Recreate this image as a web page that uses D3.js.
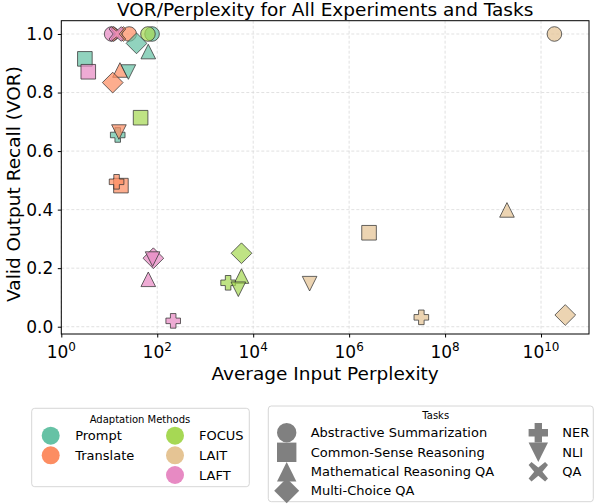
<!DOCTYPE html>
<html>
<head>
<meta charset="utf-8">
<script src="https://cdn.jsdelivr.net/npm/d3@7"></script>
<style>
  body { margin: 0; background: #fff; }
  text { font-family: "DejaVu Sans", sans-serif; fill: #000; }
</style>
</head>
<body>
<script>
// methods and tasks
let methods = ["Prompt", "Translate", "FOCUS", "LAIT", "LAFT"];
let methodColors = ["#66c2a5", "#fc8d62", "#a6d854", "#e5c494", "#e78ac3"];
let tasks = ["Abstractive Summarization", "Common-Sense Reasoning", "Mathematical Reasoning QA",
             "Multi-Choice QA", "NER", "NLI", "QA"];
let taskShapes = ["circle", "square", "triangle", "diamond", "plus", "tridown", "cross"];

// values, one entry per task (null = not shown)
let promptPpl    = [78, 3.1, 65, 37, 15, 25, null];
let promptVor    = [1.0, 0.915, 0.94, 0.968, 0.655, 0.87, null];
let translatePpl = [26, 17.5, 16.7, 11.8, 14.2, 15.9, 15.5];
let translateVor = [1.0, 0.482, 0.877, 0.834, 0.495, 0.665, 1.0];
let focusPpl     = [64, 45, 5700, 5700, 3000, 4900, null];
let focusVor     = [1.0, 0.714, 0.173, 0.251, 0.150, 0.128, null];
let laitPpl      = [1.9e10, 2.6e6, 1.95e9, 3.2e10, 3.2e7, 1.5e5, null];
let laitVor      = [1.0, 0.321, 0.399, 0.04, 0.032, 0.147, null];
let laftPpl      = [11.2, 3.65, 65, 83, 215, 80, 14];
let laftVor      = [1.0, 0.871, 0.162, 0.234, 0.02, 0.231, 1.0];

let xTicks = [0, 2, 4, 6, 8, 10];       // exponents
let yTicks = [0, 0.2, 0.4, 0.6, 0.8, 1.0];

let pplByMethod = [promptPpl, translatePpl, focusPpl, laitPpl, laftPpl];
let vorByMethod = [promptVor, translateVor, focusVor, laitVor, laftVor];

// flatten to points (drawn task by task)
let points = [];
tasks.forEach((t, ti) => {
  methods.forEach((m, mi) => {
    let p = pplByMethod[mi][ti], v = vorByMethod[mi][ti];
    if (p != null && v != null) points.push({method: mi, task: ti, ppl: p, vor: v});
  });
});

let width = 596, height = 504;
let plot = {left: 61.3, right: 589, top: 20.7, bottom: 334};

let svg = d3.select("body").append("svg")
  .attr("width", width).attr("height", height);

let x = d3.scaleLog().domain([1, 1e11]).range([plot.left, plot.right]);
let y = d3.scaleLinear().domain([-0.0249, 1.0454]).range([plot.bottom, plot.top]);

// marker paths, r = half size
function shapePath(shape, r) {
  let p = d3.path();
  if (shape == "circle") { p.arc(0, 0, r, 0, 2 * Math.PI); }
  else if (shape == "square") { p.rect(-r, -r, 2 * r, 2 * r); }
  else if (shape == "triangle") { p.moveTo(0, -r); p.lineTo(r, r); p.lineTo(-r, r); p.closePath(); }
  else if (shape == "tridown") { p.moveTo(0, r); p.lineTo(r, -r); p.lineTo(-r, -r); p.closePath(); }
  else if (shape == "diamond") { let d = r * 1.42; p.moveTo(0, -d); p.lineTo(d, 0); p.lineTo(0, d); p.lineTo(-d, 0); p.closePath(); }
  else if (shape == "plus") {
    let a = r, b = r * 0.38;
    p.moveTo(-b, -a); p.lineTo(b, -a); p.lineTo(b, -b); p.lineTo(a, -b); p.lineTo(a, b);
    p.lineTo(b, b); p.lineTo(b, a); p.lineTo(-b, a); p.lineTo(-b, b); p.lineTo(-a, b);
    p.lineTo(-a, -b); p.lineTo(-b, -b); p.closePath();
  }
  else if (shape == "cross") {
    let a = r, w = r * 0.3;
    p.moveTo(0, -w * 1.41); p.lineTo(a - w, -a); p.lineTo(a, -a + w); p.lineTo(w * 1.41, 0);
    p.lineTo(a, a - w); p.lineTo(a - w, a); p.lineTo(0, w * 1.41); p.lineTo(-a + w, a);
    p.lineTo(-a, a - w); p.lineTo(-w * 1.41, 0); p.lineTo(-a, -a + w); p.lineTo(-a + w, -a);
    p.closePath();
  }
  return p.toString();
}

// grid
let grid = svg.append("g");
grid.selectAll("line.gx").data(xTicks).enter().append("line")
  .attr("x1", d => x(Math.pow(10, d))).attr("x2", d => x(Math.pow(10, d)))
  .attr("y1", plot.top).attr("y2", plot.bottom)
  .attr("stroke", "#d9d9d9").attr("stroke-width", 0.8).attr("stroke-dasharray", "3,2");
grid.selectAll("line.gy").data(yTicks).enter().append("line")
  .attr("x1", plot.left).attr("x2", plot.right)
  .attr("y1", d => y(d)).attr("y2", d => y(d))
  .attr("stroke", "#d9d9d9").attr("stroke-width", 0.8).attr("stroke-dasharray", "3,2");

// points
svg.append("g").selectAll("path").data(points).enter().append("path")
  .attr("d", d => shapePath(taskShapes[d.task], 7.3))
  .attr("transform", d => "translate(" + x(d.ppl) + "," + y(d.vor) + ")")
  .attr("fill", d => methodColors[d.method])
  .attr("fill-opacity", 0.72)
  .attr("stroke", "#333")
  .attr("stroke-opacity", 0.75)
  .attr("stroke-width", 1);

// frame
svg.append("rect")
  .attr("x", plot.left).attr("y", plot.top)
  .attr("width", plot.right - plot.left).attr("height", plot.bottom - plot.top)
  .attr("fill", "none").attr("stroke", "#000").attr("stroke-width", 1);

// axes
let xaxis = d3.axisBottom(x).tickValues(xTicks.map(e => Math.pow(10, e)))
  .tickSize(3.5).tickFormat("");
svg.append("g").attr("transform", "translate(0," + plot.bottom + ")").call(xaxis)
  .call(g => g.select(".domain").remove());
let yaxis = d3.axisLeft(y).tickValues(yTicks).tickSize(3.5).tickPadding(4.5)
  .tickFormat(d3.format(".1f"));
svg.append("g").attr("transform", "translate(" + plot.left + ",0)").call(yaxis)
  .call(g => g.select(".domain").remove())
  .selectAll("text").style("font-size", "17px").style("font-family", "DejaVu Sans");

// x tick labels with superscripts
let xl = svg.append("g").selectAll("text").data(xTicks).enter().append("text")
  .attr("x", d => x(Math.pow(10, d))).attr("y", 358)
  .attr("text-anchor", "middle").style("font-size", "17px");
xl.append("tspan").text("10");
xl.append("tspan").attr("dy", "-7").style("font-size", "12px").text(d => d);

// labels
svg.append("text").attr("x", (plot.left + plot.right) / 2).attr("y", 15.5)
  .attr("text-anchor", "middle").style("font-size", "18.5px")
  .text("VOR/Perplexity for All Experiments and Tasks");
svg.append("text").attr("x", (plot.left + plot.right) / 2).attr("y", 379.5)
  .attr("text-anchor", "middle").style("font-size", "18.5px")
  .text("Average Input Perplexity");
svg.append("text").attr("transform", "translate(19.5,184) rotate(-90)")
  .attr("text-anchor", "middle").style("font-size", "18.5px")
  .text("Valid Output Recall (VOR)");

// legend: adaptation methods
let lg1 = svg.append("g");
lg1.append("rect").attr("x", 31.7).attr("y", 408.3).attr("width", 217.6).attr("height", 78.4)
  .attr("rx", 3).attr("fill", "#fff").attr("stroke", "#cccccc").attr("stroke-width", 0.8);
lg1.append("text").attr("x", 140).attr("y", 422.5).attr("text-anchor", "middle")
  .style("font-size", "10px").text("Adaptation Methods");
let m1pos = [[50.7, 435.7], [50.7, 455.3], [175, 435.7], [175, 455.3], [175, 475]];
let m1 = lg1.selectAll("g.item").data(methods).enter().append("g")
  .attr("transform", (d, i) => "translate(" + m1pos[i][0] + "," + m1pos[i][1] + ")");
m1.append("circle").attr("r", 9).attr("fill", (d, i) => methodColors[i]);
m1.append("text").attr("x", (d, i) => i < 2 ? 24.5 : 24).attr("y", 4.7)
  .style("font-size", "13px").text(d => d);

// legend: tasks
let lg2 = svg.append("g");
lg2.append("rect").attr("x", 268.3).attr("y", 406).attr("width", 325).attr("height", 95.7)
  .attr("rx", 3).attr("fill", "#fff").attr("stroke", "#cccccc").attr("stroke-width", 0.8);
lg2.append("text").attr("x", 435.7).attr("y", 418.5).attr("text-anchor", "middle")
  .style("font-size", "10px").text("Tasks");
let t2pos = [[286.7, 432.7], [286.7, 452.3], [286.7, 471.7], [286.7, 490.7],
             [538.3, 432.7], [538.3, 452.3], [538.3, 471.7]];
let t2 = lg2.selectAll("g.item").data(tasks).enter().append("g")
  .attr("transform", (d, i) => "translate(" + t2pos[i][0] + "," + t2pos[i][1] + ")");
t2.append("path").attr("d", (d, i) => shapePath(taskShapes[i], taskShapes[i] == "diamond" ? 8.8 : 9.7))
  .attr("fill", "#808080");
t2.append("text").attr("x", 24).attr("y", 4.7).style("font-size", "13px").text(d => d);
</script>
</body>
</html>
